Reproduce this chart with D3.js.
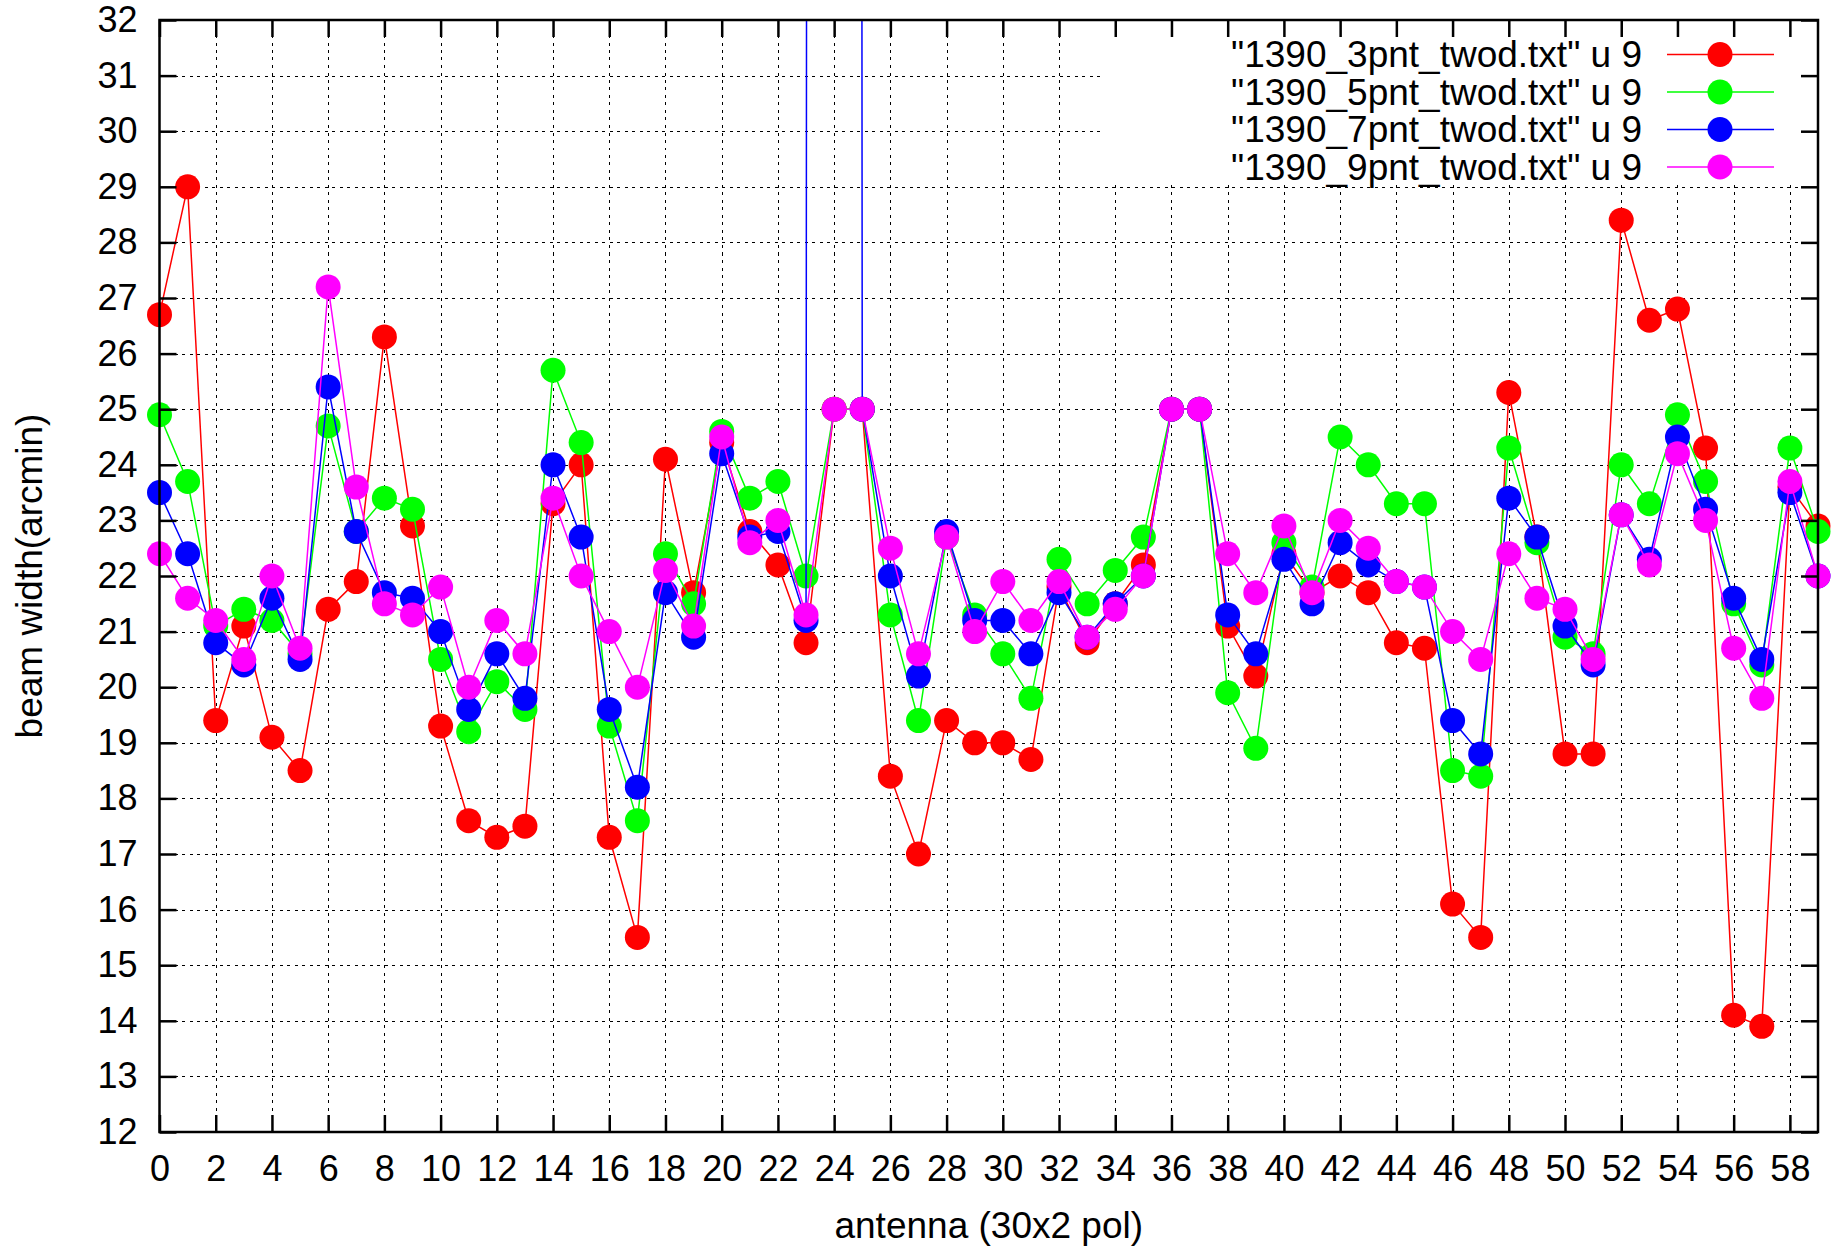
<!DOCTYPE html>
<html>
<head>
<meta charset="utf-8">
<script src="https://cdn.jsdelivr.net/npm/d3@7"></script>
<style>
  html, body { margin: 0; padding: 0; background: #fff; }
  svg { display: block; font-family: "Liberation Sans", Arial, sans-serif; }
</style>
</head>
<body>
<svg id="chart" width="1842" height="1247"></svg>
<script>
// ---- data ----
const antenna = [0,1,2,3,4,5,6,7,8,9,10,11,12,13,14,15,16,17,18,19,20,21,22,23,24,25,26,27,28,29,
                 30,31,32,33,34,35,36,37,38,39,40,41,42,43,44,45,46,47,48,49,50,51,52,53,54,55,56,57,58,59];

const pnt3 = [26.7, 29.0, 19.4, 21.1, 19.1, 18.5, 21.4, 21.9, 26.3, 22.9,
              19.3, 17.6, 17.3, 17.5, 23.3, 24.0, 17.3, 15.5, 24.1, 21.7,
              24.4, 22.8, 22.2, 20.8, 25.0, 25.0, 18.4, 17.0, 19.4, 19.0,
              19.0, 18.7, 21.8, 20.8, 21.5, 22.2, 25.0, 25.0, 21.1, 20.2,
              22.4, 21.7, 22.0, 21.7, 20.8, 20.7, 16.1, 15.5, 25.3, 22.7,
              18.8, 18.8, 28.4, 26.6, 26.8, 24.3, 14.1, 13.9, 23.6, 22.9];

const pnt5 = [24.9, 23.7, 21.1, 21.4, 21.2, 20.6, 24.7, 22.8, 23.4, 23.2,
              20.5, 19.2, 20.1, 19.6, 25.7, 24.4, 19.3, 17.6, 22.4, 21.5,
              24.6, 23.4, 23.7, 22.0, 25.0, 25.0, 21.3, 19.4, 22.7, 21.3,
              20.6, 19.8, 22.3, 21.5, 22.1, 22.7, 25.0, 25.0, 19.9, 18.9,
              22.6, 21.8, 24.5, 24.0, 23.3, 23.3, 18.5, 18.4, 24.3, 22.6,
              20.9, 20.6, 24.0, 23.3, 24.9, 23.7, 21.5, 20.4, 24.3, 22.8];

const pnt7 = [23.5, 22.4, 20.8, 20.4, 21.6, 20.5, 25.4, 22.8, 21.7, 21.6,
              21.0, 19.6, 20.6, 19.8, 24.0, 22.7, 19.6, 18.2, 21.7, 20.9,
              24.2, 22.7, 22.8, 21.2, 650, 25.0, 22.0, 20.2, 22.8, 21.2,
              21.2, 20.6, 21.7, 20.9, 21.5, 22.0, 25.0, 25.0, 21.3, 20.6,
              22.3, 21.5, 22.6, 22.2, 21.9, 21.8, 19.4, 18.8, 23.4, 22.7,
              21.1, 20.4, 23.1, 22.3, 24.5, 23.2, 21.6, 20.5, 23.5, 22.0];

const pnt9 = [22.4, 21.6, 21.2, 20.5, 22.0, 20.7, 27.2, 23.6, 21.5, 21.3,
              21.8, 20.0, 21.2, 20.6, 23.4, 22.0, 21.0, 20.0, 22.1, 21.1,
              24.5, 22.6, 23.0, 21.3, 25.0, 25.0, 22.5, 20.6, 22.7, 21.0,
              21.9, 21.2, 21.9, 20.9, 21.4, 22.0, 25.0, 25.0, 22.4, 21.7,
              22.9, 21.7, 23.0, 22.5, 21.9, 21.8, 21.0, 20.5, 22.4, 21.6,
              21.4, 20.5, 23.1, 22.2, 24.2, 23.0, 20.7, 19.8, 23.7, 22.0];

const seriesLabels = ['"1390_3pnt_twod.txt" u 9', '"1390_5pnt_twod.txt" u 9',
                      '"1390_7pnt_twod.txt" u 9', '"1390_9pnt_twod.txt" u 9'];
const seriesColors = ["#ff0000", "#00ff00", "#0000ff", "#ff00ff"];
const seriesValues = [pnt3, pnt5, pnt7, pnt9];

const xTicks = [0,2,4,6,8,10,12,14,16,18,20,22,24,26,28,30,32,34,36,38,40,42,44,46,48,50,52,54,56,58];
const yTicks = [12,13,14,15,16,17,18,19,20,21,22,23,24,25,26,27,28,29,30,31,32];
const xTitle = "antenna (30x2 pol)";
const yTitle = "beam width(arcmin)";

// ---- layout ----
const L = 159.5, R = 1818, T = 20, B = 1132;
const FS = 36, FS2 = 37;
const svg = d3.select("#chart");
const x = d3.scaleLinear().domain([0, 59]).range([L, R]);
const y = d3.scaleLinear().domain([12, 32]).range([B, T]);
const px = v => Math.round(v) + 0.5;

svg.append("rect").attr("width", 1842).attr("height", 1247).attr("fill", "#fff");

svg.append("defs").append("clipPath").attr("id", "plotclip")
  .append("rect").attr("x", L).attr("y", T).attr("width", R - L).attr("height", B - T);

// grid
const grid = svg.append("g").attr("stroke", "#000").attr("stroke-width", 1)
  .attr("stroke-dasharray", "3,4.5").attr("fill", "none").attr("shape-rendering", "crispEdges");
grid.selectAll("line.gx").data(xTicks.filter(d => d > 0)).join("line")
  .attr("x1", d => px(x(d))).attr("x2", d => px(x(d))).attr("y1", T).attr("y2", B);
grid.selectAll("line.gy").data(yTicks.filter(d => d > 12 && d < 32)).join("line")
  .attr("class", "gy")
  .attr("x1", L).attr("x2", R).attr("y1", d => px(y(d))).attr("y2", d => px(y(d)));

// data
const line = d3.line().x((d, i) => x(antenna[i])).y(d => y(d));
seriesValues.forEach((vals, s) => {
  const g = svg.append("g");
  g.append("path").datum(vals)
    .attr("clip-path", "url(#plotclip)")
    .attr("d", line).attr("fill", "none")
    .attr("stroke", seriesColors[s]).attr("stroke-width", 1.5);
  g.selectAll("circle").data(vals.map((v, i) => [antenna[i], v]).filter(d => d[1] <= 32))
    .join("circle")
    .attr("cx", d => x(d[0])).attr("cy", d => y(d[1])).attr("r", 12.5)
    .attr("fill", seriesColors[s]);
});

// legend (opaque)
const legTop = 54.5, legStep = 37.5;
svg.append("rect").attr("x", 1104).attr("y", T).attr("width", R - 1104).attr("height", 185 - T)
  .attr("fill", "#fff");
const leg = svg.append("g");
seriesLabels.forEach((lab, s) => {
  const cy = legTop + s * legStep;
  leg.append("text").attr("x", 1642).attr("y", cy).attr("dy", "0.35em")
    .attr("text-anchor", "end").attr("font-size", FS2).attr("fill", "#000").text(lab);
  leg.append("line").attr("x1", 1667).attr("x2", 1774).attr("y1", cy).attr("y2", cy)
    .attr("stroke", seriesColors[s]).attr("stroke-width", 1.5);
  leg.append("circle").attr("cx", 1720).attr("cy", cy).attr("r", 12.5).attr("fill", seriesColors[s]);
});

// axes
function styleAxis(g) {
  g.select(".domain").remove();
  g.selectAll(".tick line").attr("stroke", "#000").attr("stroke-width", 2.5);
  g.selectAll(".tick text").attr("font-size", FS).attr("fill", "#000")
    .attr("font-family", "Liberation Sans, Arial, sans-serif");
}
svg.append("g").attr("transform", `translate(${L},0)`)
  .call(d3.axisLeft(y).tickValues(yTicks).tickSize(-17).tickPadding(22).tickFormat(d3.format("d")))
  .call(styleAxis);
svg.append("g").attr("transform", `translate(${R},0)`)
  .call(d3.axisRight(y).tickValues(yTicks).tickSize(-17).tickFormat(""))
  .call(styleAxis);
svg.append("g").attr("transform", `translate(0,${B})`)
  .call(d3.axisBottom(x).tickValues(xTicks).tickSize(-17).tickPadding(23).tickFormat(d3.format("d")))
  .call(styleAxis);
svg.append("g").attr("transform", `translate(0,${T})`)
  .call(d3.axisTop(x).tickValues(xTicks).tickSize(-17).tickFormat(""))
  .call(styleAxis);

svg.append("rect").attr("x", L).attr("y", T).attr("width", R - L).attr("height", B - T)
  .attr("fill", "none").attr("stroke", "#000").attr("stroke-width", 2.5);

// titles
svg.append("text").attr("x", (L + R) / 2).attr("y", 1225).attr("dy", "0.35em")
  .attr("text-anchor", "middle").attr("font-size", FS2).attr("fill", "#000").text(xTitle);
svg.append("text").attr("transform", `translate(29,${(T + B) / 2}) rotate(-90)`)
  .attr("dy", "0.35em").attr("text-anchor", "middle").attr("font-size", FS2).attr("fill", "#000").text(yTitle);
</script>
</body>
</html>
